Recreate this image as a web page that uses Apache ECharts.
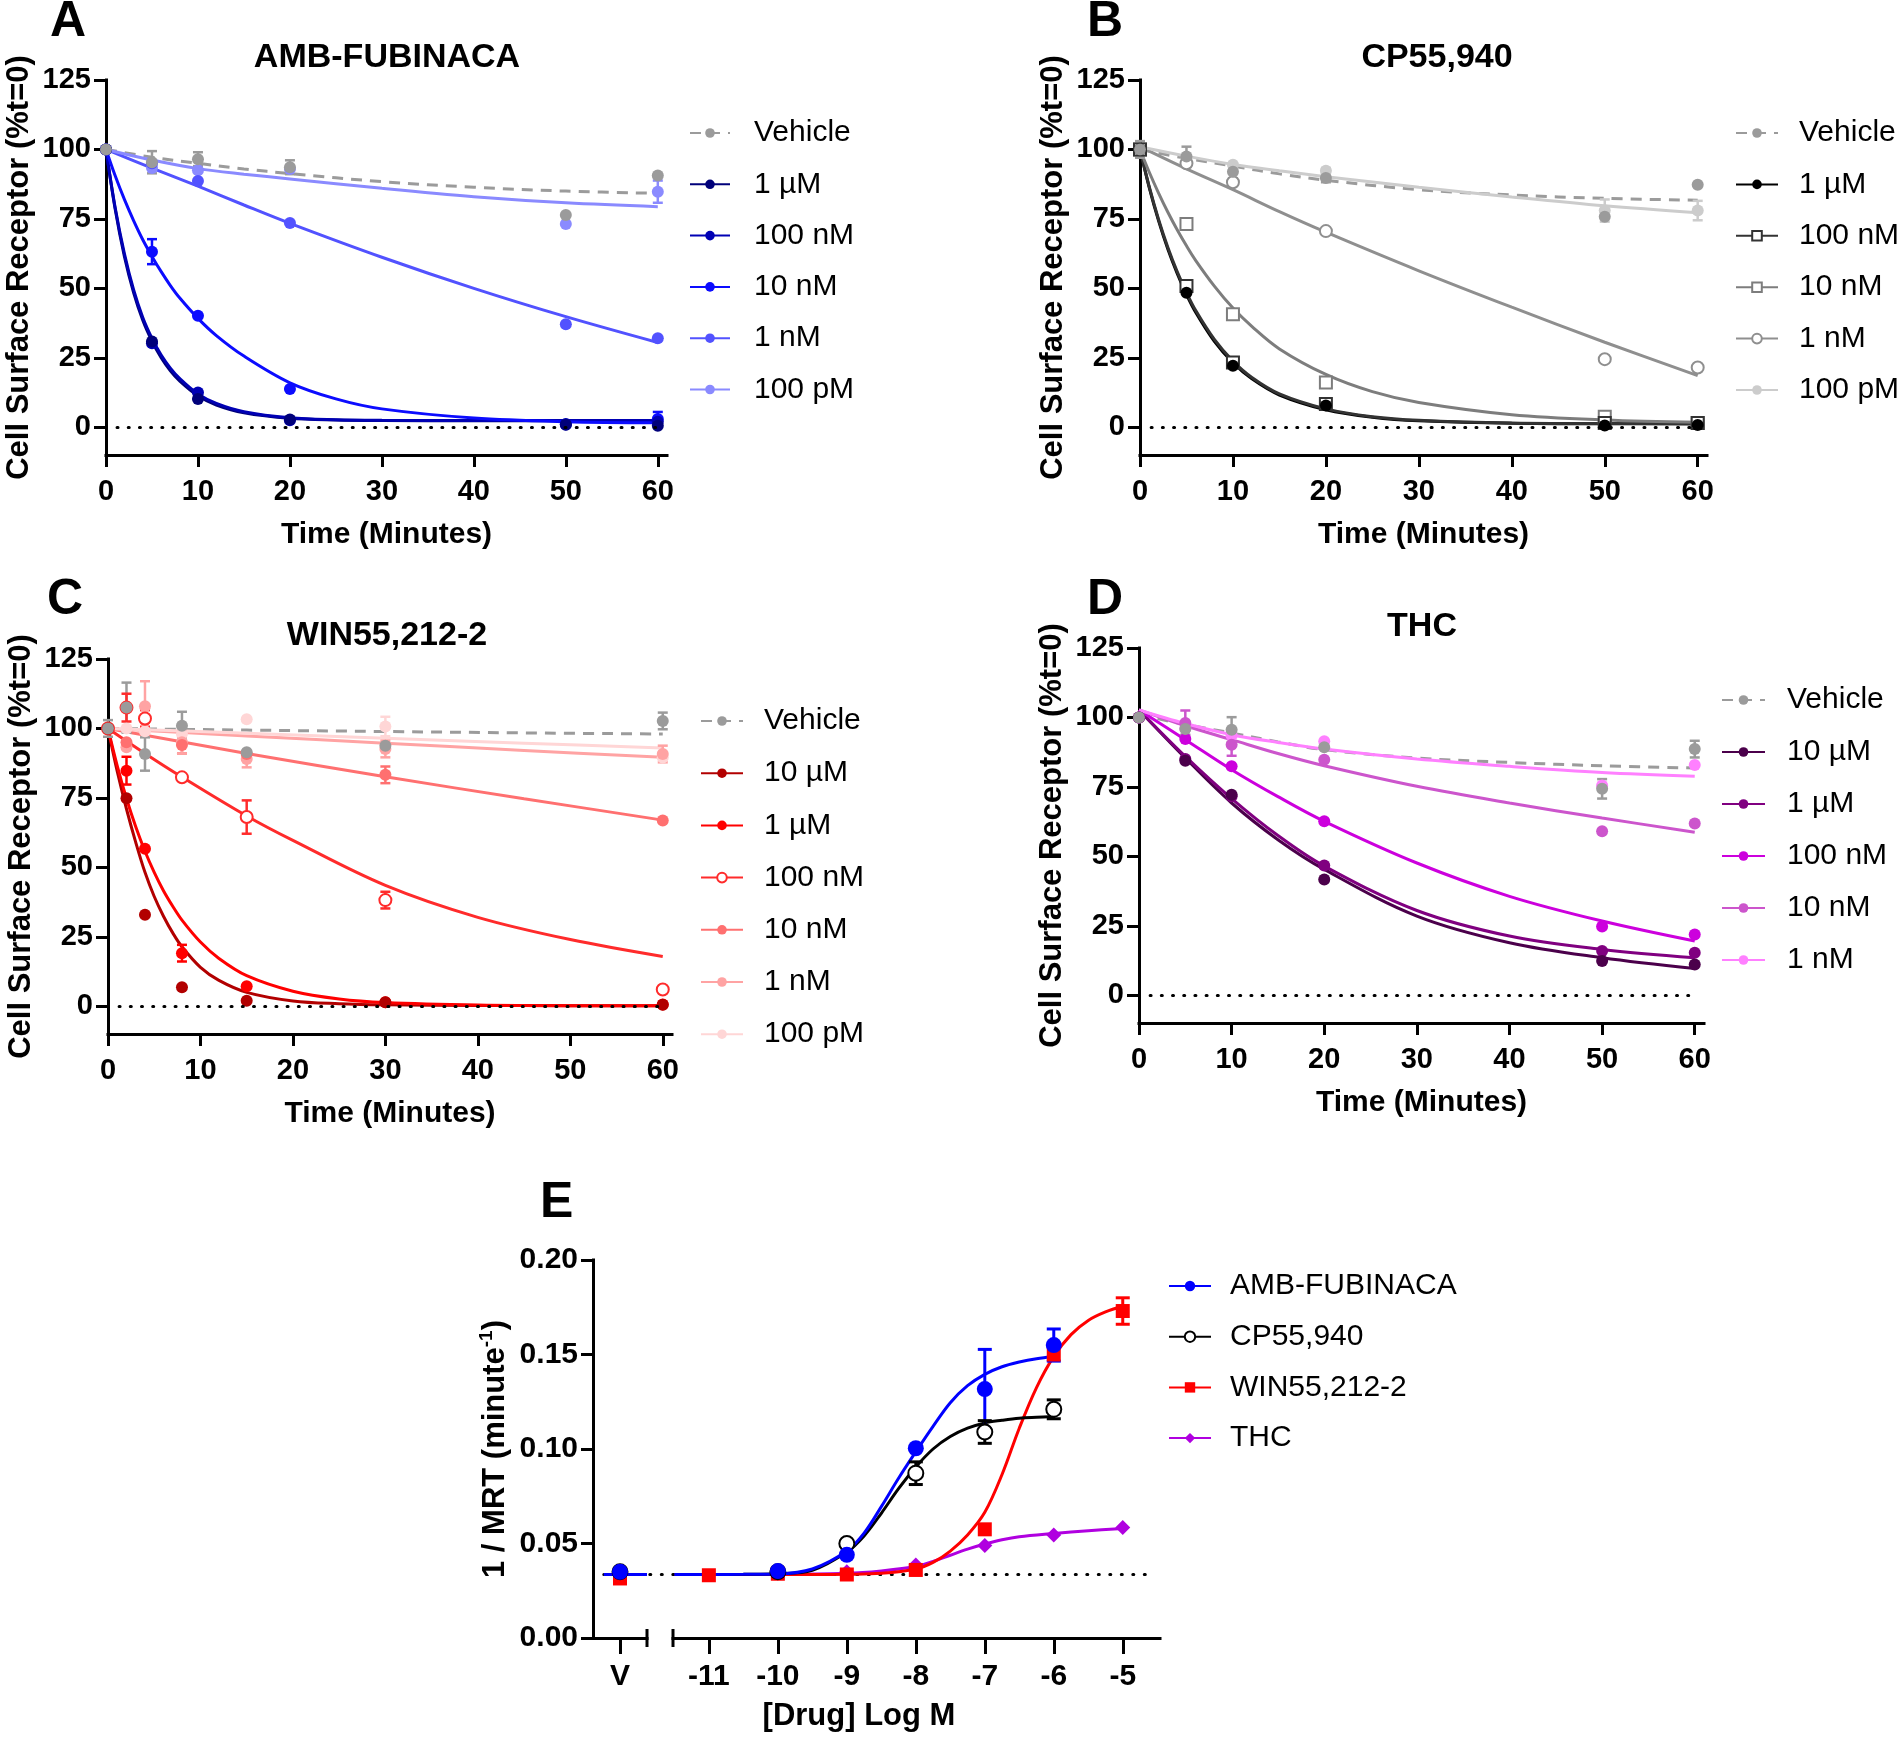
<!DOCTYPE html>
<html><head><meta charset="utf-8">
<script src="https://cdn.jsdelivr.net/npm/echarts@6/dist/echarts.min.js"></script>
<style>html,body{margin:0;padding:0;background:#fff}#c{width:1898px;height:1740px}</style>
</head><body><div id="c"></div>
<script>
const FONT = '"Liberation Sans", Arial, Helvetica, sans-serif';

// ================= Panel A : AMB-FUBINACA =================
const timesA = [0, 5, 10, 20, 50, 60];
const A_vehicle = [100, 95.4, 96.5, 93.6, 76.4, 90.6];
const A_vehicle_err = [0, 4, 2.5, 2.5, 0, 0];
const A_1uM = [100, 30.9, 10.2, 2.8, 0.9, 0.5];
const A_100nM = [100, 30.2, 12.5, 2.5, 1.2, 2.0];
const A_10nM = [100, 63.2, 40.1, 13.8, 1.0, 3.0];
const A_10nM_err = [0, 4.5, 0, 0, 0, 2.5];
const A_1nM = [100, 95.0, 88.6, 73.5, 37.1, 32.0];
const A_100pM = [100, 93.3, 92.5, 93.0, 73.2, 84.8];
const A_100pM_err = [0, 0, 0, 0, 0, 4];
const fitTA_slow = [0, 5, 10, 15, 20, 30, 40, 50, 60];
const fitTA_fast = [0, 1, 2, 3, 4, 5, 6, 7, 8, 10, 12, 15, 20, 25, 30, 40, 50, 60];
const A_fit_vehicle = [100, 97.2, 95, 93, 91.3, 88.4, 86.4, 85, 84.2];
const A_fit_100pM = [100, 96.2, 93.1, 91.1, 89.4, 86, 83, 80.8, 79.4];
const A_fit_1nM = [100, 93.3, 86.8, 80, 73.4, 61.2, 50, 39.8, 30.5];
const A_fit_10nM = [100, 90.5, 82, 74.4, 67.5, 61.5, 56, 51, 46.6, 39.2, 33, 25.6, 16, 10.2, 6.6, 3.3, 2, 1.6];
const A_fit_100nM = [100, 79, 62.5, 49.5, 39.5, 32, 26, 21.3, 17.6, 12, 8.6, 5.6, 3.4, 2.7, 2.5, 2.4, 2.4, 2.4];
const A_fit_1uM = [100, 78.5, 61.5, 48.5, 38.5, 31, 25, 20.3, 16.7, 11.3, 8, 5.2, 3.2, 2.6, 2.4, 2.3, 2.3, 2.3];

// ================= Panel B : CP55,940 =================
const timesB = [0, 5, 10, 20, 50, 60];
const B_vehicle = [100, 97.5, 92, 89.7, 75.8, 87.3];
const B_vehicle_err = [3, 3.5, 2.5, 1.5, 0, 0];
const B_1uM = [100, 48.4, 22.1, 7.8, 0.6, 0.8];
const B_100nM = [100, 50.8, 23.3, 8.4, 1.5, 1.5];
const B_10nM = [100, 73.2, 40.7, 16.1, 3.8, 1.5];
const B_1nM = [100, 95, 88.2, 70.6, 24.5, 21.5];
const B_100pM = [100, 96.5, 94.5, 92.3, 78, 78];
const B_100pM_err = [0, 0, 0, 1, 4, 3.5];
const fitTB_slow = [0, 5, 10, 15, 20, 30, 40, 50, 60];
const fitTB_fast = [0, 1, 2, 3, 4, 5, 6, 8, 10, 12, 15, 20, 25, 30, 40, 50, 60];
const B_fit_vehicle = [100, 96.8, 94, 91.2, 88.9, 85.5, 83.6, 82.4, 81.7];
const B_fit_100pM = [101, 97.6, 94.6, 92.3, 90.2, 86.4, 82.9, 79.7, 77.2];
const B_fit_1nM = [101, 93, 85.5, 77.6, 70.2, 56.3, 43.2, 30.6, 18.6];
const B_fit_10nM = [100, 91.8, 84.3, 77.4, 71.1, 65.3, 60, 50.8, 42.9, 36.4, 28.2, 19, 12.8, 8.9, 4.5, 2.6, 1.8];
const B_fit_100nM = [100, 86.5, 74.8, 64.7, 56, 48.5, 42, 31.6, 23.8, 18, 12, 6.6, 3.8, 2.5, 1.5, 1.3, 1.3];
const B_fit_1uM = [100, 86.2, 74.3, 64.1, 55.4, 47.8, 41.3, 30.9, 23.2, 17.5, 11.6, 6.3, 3.6, 2.3, 1.4, 1.25, 1.2];

// ================= Panel C : WIN55,212-2 =================
const timesC = [0, 2, 4, 8, 15, 30, 60];
const C_vehicle = [100, 107.5, 90.8, 101, 91.4, 93.8, 102.7];
const C_vehicle_err = [3, 9, 6, 5, 0, 0, 3];
const C_10uM = [100, 74.9, 32.9, 6.8, 2, 1.4, 0.5];
const C_1uM = [100, 84.8, 56.7, 19.1, 7.2, 1.4, 0.6];
const C_1uM_err = [0, 5, 0, 3, 0, 0, 0];
const C_100nM = [100, 107.5, 103.6, 82.4, 68.1, 38.2, 6];
const C_100nM_err = [0, 5, 3, 0, 6, 3, 0];
const C_10nM = [100, 95, 103, 94, 90.8, 83.3, 66.9];
const C_10nM_err = [0, 0, 0, 3, 0, 3, 0];
const C_1nM = [100, 93.2, 108, 95, 89, 92.6, 90.8];
const C_1nM_err = [0, 0, 9, 4, 3, 3, 3];
const C_100pM = [100, 100, 99, 98, 103.3, 100.7, 89.5];
const C_100pM_err = [0, 0, 0, 0, 0, 3.5, 0];
const fitTC_fast = [0, 1, 2, 3, 4, 5, 6, 7, 8, 10, 12, 15, 20, 25, 30, 40, 50, 60];
const fitTC_mid = [0, 4, 8, 15, 20, 30, 40, 50, 60];
const fitTC_slow = [0, 15, 30, 45, 60];
const C_fit_vehicle = [100, 99.4, 98.9, 98.4, 98];
const C_fit_100pM = [100, 98.3, 96.5, 94.7, 93];
const C_fit_1nM = [100, 97.3, 94.7, 92.1, 89.6];
const C_fit_10nM = [100, 91, 82.6, 74.7, 67];
const C_fit_100nM = [100, 91, 82.5, 68.5, 59.7, 43.5, 32, 24, 17.9];
const C_fit_1uM = [100, 86.5, 74.8, 64.6, 55.8, 48.2, 41.6, 36, 31, 23.1, 17.2, 11, 5.4, 2.6, 1.3, 0.4, 0.2, 0.2];
const C_fit_10uM = [100, 84.5, 71, 59, 48.2, 39.5, 32.4, 26.4, 21.4, 14, 9.3, 5, 1.9, 0.9, 0.5, 0.3, 0.2, 0.2];

// ================= Panel D : THC =================
const timesD = [0, 5, 10, 20, 50, 60];
const D_vehicle = [100, 95.8, 95.6, 89.3, 74.3, 88.6];
const D_vehicle_err = [0, 2, 4.5, 0, 3.5, 3];
const D_10uM = [100, 84.4, 72.2, 41.7, 12.3, 11.1];
const D_1uM = [100, 85, 71.6, 46.7, 15.9, 15.3];
const D_100nM = [100, 92.2, 82.4, 62.6, 24.7, 21.9];
const D_10nM = [100, 98, 90.2, 84.8, 59, 61.8];
const D_10nM_err = [0, 4.5, 4, 0, 0, 0];
const D_1nM = [100, 96, 93.5, 91.4, 75.5, 82.9];
const fitTD = [0, 5, 10, 15, 20, 30, 40, 50, 60];
const D_fit_vehicle = [101, 97.5, 94.4, 91.2, 88.4, 85.4, 83.8, 82.6, 81.8];
const D_fit_1nM = [102.7, 97.8, 93.8, 91, 88.6, 85, 82.4, 80.2, 78.8];
const D_fit_10nM = [102.7, 97, 92, 87, 82.6, 75.2, 69.2, 63.8, 58.7];
const D_fit_100nM = [102.7, 92, 81.2, 71.5, 62.6, 47.6, 35.6, 26.7, 19.5];
const D_fit_1uM = [102.7, 86, 70.8, 57.5, 46.5, 30.5, 21.3, 16.5, 13.5];
const D_fit_10uM = [102.7, 85.4, 69.2, 56, 45.3, 28.5, 18.9, 13.5, 9.6];

// ================= Panel E : 1/MRT vs log dose =================
const E_doses = [-11, -10, -9, -8, -7, -6, -5];
const E_AMB = [null, 0.0354, 0.044, 0.1004, 0.1317, 0.155, null];
const E_AMB_err = [0, 0, 0, 0, 0.021, 0.0085, 0];
const E_CP = [null, 0.035, 0.050, 0.0872, 0.109, 0.121, null];
const E_CP_err = [0, 0, 0, 0.006, 0.006, 0.005, 0];
const E_WIN = [0.0332, 0.034, 0.0336, 0.036, 0.0575, 0.150, 0.173];
const E_WIN_err = [0, 0, 0, 0, 0, 0, 0.007];
const E_THC = [null, null, 0.035, 0.0386, 0.049, 0.0545, 0.0585];
// vehicle (V) values: AMB, CP, WIN
const E_vehicle = [0.035, 0.035, 0.0315];
const E_baseline = 0.0336;
const E_fitX = [-11.5, -11, -10.5, -10, -9.5, -9, -8.75, -8.5, -8.25, -8, -7.75, -7.5, -7.25, -7, -6.75, -6.5, -6.25, -6];
const E_fit_AMB = [0.0336, 0.0336, 0.0337, 0.0339, 0.0365, 0.046, 0.0555, 0.0695, 0.0845, 0.0985, 0.112, 0.1245, 0.1335, 0.1395, 0.1435, 0.146, 0.1478, 0.149];
const E_fit_CP = [0.0336, 0.0336, 0.0337, 0.034, 0.0358, 0.0455, 0.054, 0.066, 0.079, 0.0905, 0.1, 0.1066, 0.111, 0.1138, 0.1152, 0.1163, 0.1168, 0.1172];
const E_fitX_WIN = [-11.5, -11, -10.5, -10, -9.5, -9, -8.5, -8, -7.75, -7.5, -7.25, -7, -6.75, -6.5, -6.25, -6, -5.75, -5.5, -5.25, -5];
const E_fit_WIN = [0.0336, 0.0336, 0.0336, 0.0336, 0.0336, 0.0337, 0.0342, 0.0365, 0.04, 0.046, 0.0545, 0.0665, 0.0865, 0.111, 0.1325, 0.149, 0.1605, 0.168, 0.1725, 0.1755];
const E_fitX_THC = [-11.5, -11, -10, -9, -8.5, -8, -7.75, -7.5, -7.25, -7, -6.75, -6.5, -6, -5.5, -5];
const E_fit_THC = [0.0336, 0.0336, 0.0337, 0.0342, 0.0355, 0.0378, 0.0405, 0.0438, 0.047, 0.0497, 0.052, 0.0536, 0.0553, 0.0568, 0.058];
const E_Vline_x = [0.2, 1.0];
const E_Vline_y = [0.0336, 0.0336];
const E_V_pos = 0.5;
const E2_MIN = -11.52, E2_MAX = -4.46;
const E_dotFrom = 0.2, E_dotTo = -4.6;

const timeTicks = [0, 10, 20, 30, 40, 50, 60];
const pctTicks = [0, 25, 50, 75, 100, 125];
const E2_ticks = [-11, -10, -9, -8, -7, -6, -5];

// ================= styling / layout =================
const GREY = '#9b9b9b';
const panelsCfg = [
  { key: 'A', grid: 0, legend: { left: 689, top: 118, itemWidth: 40, itemGap: 21.3, pad: 19 }, items: [
    { name: 'Vehicle', color: GREY, symbol: 'circle', dashed: true, t: timesA, y: A_vehicle, err: A_vehicle_err, ft: fitTA_slow, fy: A_fit_vehicle },
    { name: '1 µM', color: '#00007a', symbol: 'circle', t: timesA, y: A_1uM, ft: fitTA_fast, fy: A_fit_1uM },
    { name: '100 nM', color: '#0000b4', symbol: 'circle', t: timesA, y: A_100nM, ft: fitTA_fast, fy: A_fit_100nM },
    { name: '10 nM', color: '#0c0cff', symbol: 'circle', t: timesA, y: A_10nM, err: A_10nM_err, ft: fitTA_fast, fy: A_fit_10nM },
    { name: '1 nM', color: '#5252ff', symbol: 'circle', t: timesA, y: A_1nM, ft: fitTA_slow, fy: A_fit_1nM },
    { name: '100 pM', color: '#8a8aff', symbol: 'circle', t: timesA, y: A_100pM, err: A_100pM_err, ft: fitTA_slow, fy: A_fit_100pM }
  ]},
  { key: 'B', grid: 1, legend: { left: 1735, top: 118, itemWidth: 42, itemGap: 21.4, pad: 16 }, items: [
    { name: 'Vehicle', color: GREY, symbol: 'circle', dashed: true, t: timesB, y: B_vehicle, err: B_vehicle_err, ft: fitTB_slow, fy: B_fit_vehicle },
    { name: '1 µM', color: '#000000', symbol: 'circle', t: timesB, y: B_1uM, ft: fitTB_fast, fy: B_fit_1uM },
    { name: '100 nM', color: '#333333', symbol: 'emptyRect', t: timesB, y: B_100nM, ft: fitTB_fast, fy: B_fit_100nM },
    { name: '10 nM', color: '#7d7d7d', symbol: 'emptyRect', t: timesB, y: B_10nM, ft: fitTB_fast, fy: B_fit_10nM },
    { name: '1 nM', color: '#8f8f8f', symbol: 'emptyCircle', t: timesB, y: B_1nM, ft: fitTB_slow, fy: B_fit_1nM },
    { name: '100 pM', color: '#cccccc', symbol: 'circle', t: timesB, y: B_100pM, err: B_100pM_err, ft: fitTB_slow, fy: B_fit_100pM }
  ]},
  { key: 'C', grid: 2, legend: { left: 700, top: 706, itemWidth: 42, itemGap: 22.2, pad: 16 }, items: [
    { name: 'Vehicle', color: GREY, symbol: 'circle', dashed: true, t: timesC, y: C_vehicle, err: C_vehicle_err, ft: fitTC_slow, fy: C_fit_vehicle },
    { name: '10 µM', color: '#b20000', symbol: 'circle', t: timesC, y: C_10uM, ft: fitTC_fast, fy: C_fit_10uM },
    { name: '1 µM', color: '#ff0000', symbol: 'circle', t: timesC, y: C_1uM, err: C_1uM_err, ft: fitTC_fast, fy: C_fit_1uM },
    { name: '100 nM', color: '#ff2b2b', symbol: 'emptyCircle', t: timesC, y: C_100nM, err: C_100nM_err, ft: fitTC_mid, fy: C_fit_100nM },
    { name: '10 nM', color: '#ff7070', symbol: 'circle', t: timesC, y: C_10nM, err: C_10nM_err, ft: fitTC_slow, fy: C_fit_10nM },
    { name: '1 nM', color: '#ffa3a3', symbol: 'circle', t: timesC, y: C_1nM, err: C_1nM_err, ft: fitTC_slow, fy: C_fit_1nM },
    { name: '100 pM', color: '#ffd6d6', symbol: 'circle', t: timesC, y: C_100pM, err: C_100pM_err, ft: fitTC_slow, fy: C_fit_100pM }
  ]},
  { key: 'D', grid: 3, legend: { left: 1721, top: 685, itemWidth: 43, itemGap: 22, pad: 17 }, items: [
    { name: 'Vehicle', color: GREY, symbol: 'circle', dashed: true, t: timesD, y: D_vehicle, err: D_vehicle_err, ft: fitTD, fy: D_fit_vehicle },
    { name: '10 µM', color: '#4b004b', symbol: 'circle', t: timesD, y: D_10uM, ft: fitTD, fy: D_fit_10uM },
    { name: '1 µM', color: '#800080', symbol: 'circle', t: timesD, y: D_1uM, ft: fitTD, fy: D_fit_1uM },
    { name: '100 nM', color: '#cc00dd', symbol: 'circle', t: timesD, y: D_100nM, ft: fitTD, fy: D_fit_100nM },
    { name: '10 nM', color: '#cc55cc', symbol: 'circle', t: timesD, y: D_10nM, err: D_10nM_err, ft: fitTD, fy: D_fit_10nM },
    { name: '1 nM', color: '#ff80ff', symbol: 'circle', t: timesD, y: D_1nM, ft: fitTD, fy: D_fit_1nM }
  ]}
];

const gridsPos = [
  { left: 106, top: 80, width: 561, height: 375 },
  { left: 1140, top: 80, width: 567, height: 375 },
  { left: 108, top: 659, width: 564, height: 375 },
  { left: 1139, top: 648, width: 565, height: 375 },
  { left: 593, top: 1260, width: 54, height: 378 },
  { left: 673, top: 1260, width: 487, height: 378 }
];

const series = [];
const legends = [];

function errSeries(gi, pts, color, half, width) {
  return {
    type: 'custom', xAxisIndex: gi, yAxisIndex: gi, z: 3, silent: true, animation: false,
    data: pts, encode: { x: 0, y: 1 },
    renderItem: function (params, api) {
      const x = api.value(0), y = api.value(1), e = api.value(2);
      const p1 = api.coord([x, y + e]), p2 = api.coord([x, y - e]);
      const st = { stroke: color, lineWidth: width };
      return { type: 'group', children: [
        { type: 'line', shape: { x1: p1[0], y1: p1[1], x2: p2[0], y2: p2[1] }, style: st },
        { type: 'line', shape: { x1: p1[0] - half, y1: p1[1], x2: p1[0] + half, y2: p1[1] }, style: st },
        { type: 'line', shape: { x1: p2[0] - half, y1: p2[1], x2: p2[0] + half, y2: p2[1] }, style: st }
      ]};
    }
  };
}

function lineSeries(name, gi, xs, ys, color, symbol, dashed) {
  return {
    type: 'line', name: name, xAxisIndex: gi, yAxisIndex: gi,
    data: xs.map((x, i) => [x, ys[i]]), smooth: 0.35, showSymbol: false,
    symbol: symbol, symbolSize: 10, z: 2, silent: true, animation: false,
    lineStyle: { color: color, width: 3, type: dashed ? [11, 8] : 'solid' },
    itemStyle: { color: color }
  };
}

function scatterSeries(gi, xs, ys, color, symbol, size) {
  return {
    type: 'scatter', xAxisIndex: gi, yAxisIndex: gi, z: 4, silent: true, animation: false,
    data: xs.map((x, i) => [x, ys[i]]).filter(d => d[1] !== null && d[1] !== undefined),
    symbol: symbol, symbolSize: size,
    itemStyle: { color: color, borderColor: color, borderWidth: symbol.indexOf('empty') === 0 ? 2.5 : 0, opacity: 1 }
  };
}

panelsCfg.forEach(p => {
  p.items.forEach((it, idx) => {
    const s = lineSeries(p.key + '|' + it.name, p.grid, it.ft, it.fy, it.color, it.symbol, it.dashed);
    if (idx === 0) {
      s.markLine = {
        silent: true, symbol: 'none', animation: false, label: { show: false },
        lineStyle: { color: '#000', width: 3, type: [1, 10.2], cap: 'round' },
        data: [[{ coord: [1.2, 0] }, { coord: [60, 0] }]]
      };
    }
    series.push(s);
  });
  p.items.forEach(it => {
    if (!it.err) return;
    const pts = it.t.map((t, i) => [t, it.y[i], it.err[i]]).filter(d => d[2] > 0);
    if (pts.length) series.push(errSeries(p.grid, pts, it.color, 5, 2.5));
  });
  p.items.slice().reverse().forEach(it => {
    series.push(scatterSeries(p.grid, it.t, it.y, it.color, it.symbol, 12));
  });
  legends.push({
    show: true, orient: 'vertical', left: p.legend.left, top: p.legend.top,
    itemWidth: p.legend.itemWidth, itemHeight: 12, itemGap: p.legend.itemGap,
    selectedMode: false, padding: 0,
    data: p.items.map(it => p.key + '|' + it.name),
    formatter: n => n.split('|')[1],
    textStyle: { fontSize: 30, fontFamily: FONT, color: '#000', lineHeight: 30, padding: [0, 0, 0, p.legend.pad] }
  });
});

// ---- Panel E series ----
const E_cfg = [
  { name: 'AMB-FUBINACA', color: '#0000ff', symbol: 'circle', size: 16, y: E_AMB, err: E_AMB_err, fx: E_fitX, fy: E_fit_AMB },
  { name: 'CP55,940', color: '#000000', symbol: 'emptyCircle', size: 15, y: E_CP, err: E_CP_err, fx: E_fitX, fy: E_fit_CP },
  { name: 'WIN55,212-2', color: '#ff0000', symbol: 'rect', size: 14, y: E_WIN, err: E_WIN_err, fx: E_fitX_WIN, fy: E_fit_WIN },
  { name: 'THC', color: '#b000e0', symbol: 'diamond', size: 15, y: E_THC, err: null, fx: E_fitX_THC, fy: E_fit_THC }
];
// V segment (grid 4)
series.push({ type: 'line', xAxisIndex: 4, yAxisIndex: 4, data: E_Vline_x.map((x, i) => [x, E_Vline_y[i]]),
  showSymbol: false, symbol: 'none', silent: true, animation: false, z: 2, lineStyle: { color: '#0000ff', width: 3 } });
[2, 1, 0].forEach(i => {
  const c = E_cfg[i];
  series.push(scatterSeries(4, [E_V_pos], [E_vehicle[i]], c.color, c.symbol, c.size));
});
// dose segment (grid 5)
E_cfg.slice().reverse().forEach(c => series.push(lineSeries('E|' + c.name, 5, c.fx, c.fy, c.color, c.symbol, false)));
E_cfg.forEach(c => {
  if (!c.err) return;
  const pts = E_doses.map((d, i) => [d, c.y[i], c.err[i]]).filter(p => p[1] !== null && p[2] > 0);
  if (pts.length) series.push(errSeries(5, pts, c.color, 7, 3));
});
E_cfg.slice().reverse().forEach(c => series.push(scatterSeries(5, E_doses, c.y, c.color, c.symbol, c.size)));
legends.push({
  show: true, orient: 'vertical', left: 1168, top: 1271, itemWidth: 42, itemHeight: 13, itemGap: 20.7,
  selectedMode: false, padding: 0,
  data: E_cfg.map(c => 'E|' + c.name), formatter: n => n.split('|')[1],
  textStyle: { fontSize: 30, fontFamily: FONT, color: '#000', lineHeight: 30, padding: [0, 0, 0, 14] }
});

// ---- axes ----
const axLine = { show: true, onZero: false, lineStyle: { color: '#000', width: 3, cap: 'square' } };
function timeX(gi) {
  return {
    type: 'value', gridIndex: gi, min: 0, max: 61, axisLine: axLine,
    axisTick: { show: true, length: 12, customValues: timeTicks, lineStyle: { color: '#000', width: 3 } },
    axisLabel: { show: true, customValues: timeTicks, margin: 22, color: '#000', fontSize: 29, fontWeight: 'bold', fontFamily: FONT },
    splitLine: { show: false },
    name: 'Time (Minutes)', nameLocation: 'middle', nameGap: 65,
    nameTextStyle: { fontSize: 30, fontWeight: 'bold', fontFamily: FONT, color: '#000' }
  };
}
function pctY(gi) {
  return {
    type: 'value', gridIndex: gi, min: -10, max: 125, axisLine: axLine,
    axisTick: { show: true, length: 12, customValues: pctTicks, lineStyle: { color: '#000', width: 3 } },
    axisLabel: { show: true, customValues: pctTicks, margin: 15, color: '#000', fontSize: 29, fontWeight: 'bold', fontFamily: FONT },
    splitLine: { show: false },
    name: 'Cell Surface Receptor (%t=0)', nameLocation: 'middle', nameGap: 71,
    nameTextStyle: { fontSize: 31, fontWeight: 'bold', fontFamily: FONT, color: '#000' }
  };
}
const xAxes = [timeX(0), timeX(1), timeX(2), timeX(3),
  { type: 'value', gridIndex: 4, min: 0, max: 1, axisLine: axLine,
    axisTick: { show: true, length: 16, customValues: [E_V_pos], lineStyle: { color: '#000', width: 3 } },
    axisLabel: { show: true, customValues: [E_V_pos], formatter: () => 'V', margin: 24, color: '#000', fontSize: 30, fontWeight: 'bold', fontFamily: FONT },
    splitLine: { show: false } },
  { type: 'value', gridIndex: 5, min: E2_MIN, max: E2_MAX, axisLine: axLine,
    axisTick: { show: true, length: 16, customValues: E2_ticks, lineStyle: { color: '#000', width: 3 } },
    axisLabel: { show: true, customValues: E2_ticks, formatter: v => String(v), margin: 24, color: '#000', fontSize: 30, fontWeight: 'bold', fontFamily: FONT },
    splitLine: { show: false } }
];
const yAxes = [pctY(0), pctY(1), pctY(2), pctY(3),
  { type: 'value', gridIndex: 4, min: 0, max: 0.2, interval: 0.05, axisLine: axLine,
    axisTick: { show: true, length: 12, lineStyle: { color: '#000', width: 3 } },
    axisLabel: { show: true, margin: 15, formatter: v => v.toFixed(2), color: '#000', fontSize: 30, fontWeight: 'bold', fontFamily: FONT },
    splitLine: { show: false },
    name: '1 / MRT (minute{sup|-1})', nameLocation: 'middle', nameGap: 80,
    nameTextStyle: { fontSize: 31, fontWeight: 'bold', fontFamily: FONT, color: '#000', lineHeight: 36,
      rich: { sup: { fontSize: 19, fontWeight: 'bold', fontFamily: FONT, color: '#000', verticalAlign: 'top', lineHeight: 36 } } } },
  { type: 'value', gridIndex: 5, min: 0, max: 0.2, show: false, splitLine: { show: false } }
];

function txt(text, x, y, size, align) {
  return { text: text, left: x, top: y, textAlign: align || 'left', padding: 0,
    textStyle: { fontSize: size, fontWeight: 'bold', fontFamily: FONT, color: '#000' } };
}
const titles = [
  txt('A', 50, -3, 50), txt('B', 1087, -3, 50), txt('C', 47, 575, 50), txt('D', 1087, 575, 50), txt('E', 540, 1178, 50),
  txt('AMB-FUBINACA', 387, 41, 34, 'center'), txt('CP55,940', 1437, 41, 34, 'center'),
  txt('WIN55,212-2', 387, 619, 34, 'center'), txt('THC', 1422, 610, 34, 'center'),
  txt('[Drug] Log M', 859, 1701, 31, 'center')
];

const option = {
  animation: false,
  backgroundColor: '#ffffff',
  textStyle: { fontFamily: FONT },
  title: titles,
  legend: legends,
  grid: gridsPos.map(g => Object.assign({ containLabel: false, outerBoundsMode: 'none' }, g)),
  xAxis: xAxes,
  yAxis: yAxes,
  series: series
};

const chart = echarts.init(document.getElementById('c'), null, { renderer: 'canvas', width: 1898, height: 1740 });
chart.setOption(option);

// axis-break bars and the baseline through the break, placed through the grid coordinate systems
const b1 = chart.convertToPixel({ gridIndex: 4 }, [1, 0]);
const b2 = chart.convertToPixel({ gridIndex: 5 }, [E2_MIN, 0]);
const d1 = chart.convertToPixel({ gridIndex: 4 }, [E_dotFrom, E_baseline]);
const d2 = chart.convertToPixel({ gridIndex: 5 }, [E_dotTo, E_baseline]);
chart.setOption({ graphic: [
  { type: 'line', z: 10, shape: { x1: b1[0], y1: b1[1] - 9, x2: b1[0], y2: b1[1] + 9 }, style: { stroke: '#000', lineWidth: 3 } },
  { type: 'line', z: 10, shape: { x1: b2[0], y1: b2[1] - 9, x2: b2[0], y2: b2[1] + 9 }, style: { stroke: '#000', lineWidth: 3 } },
  { type: 'line', z: 0, shape: { x1: d1[0], y1: d1[1], x2: d2[0], y2: d2[1] }, style: { stroke: '#000', lineWidth: 3, lineDash: [1, 10.5], lineCap: 'round' } }
]});
</script></body></html>
